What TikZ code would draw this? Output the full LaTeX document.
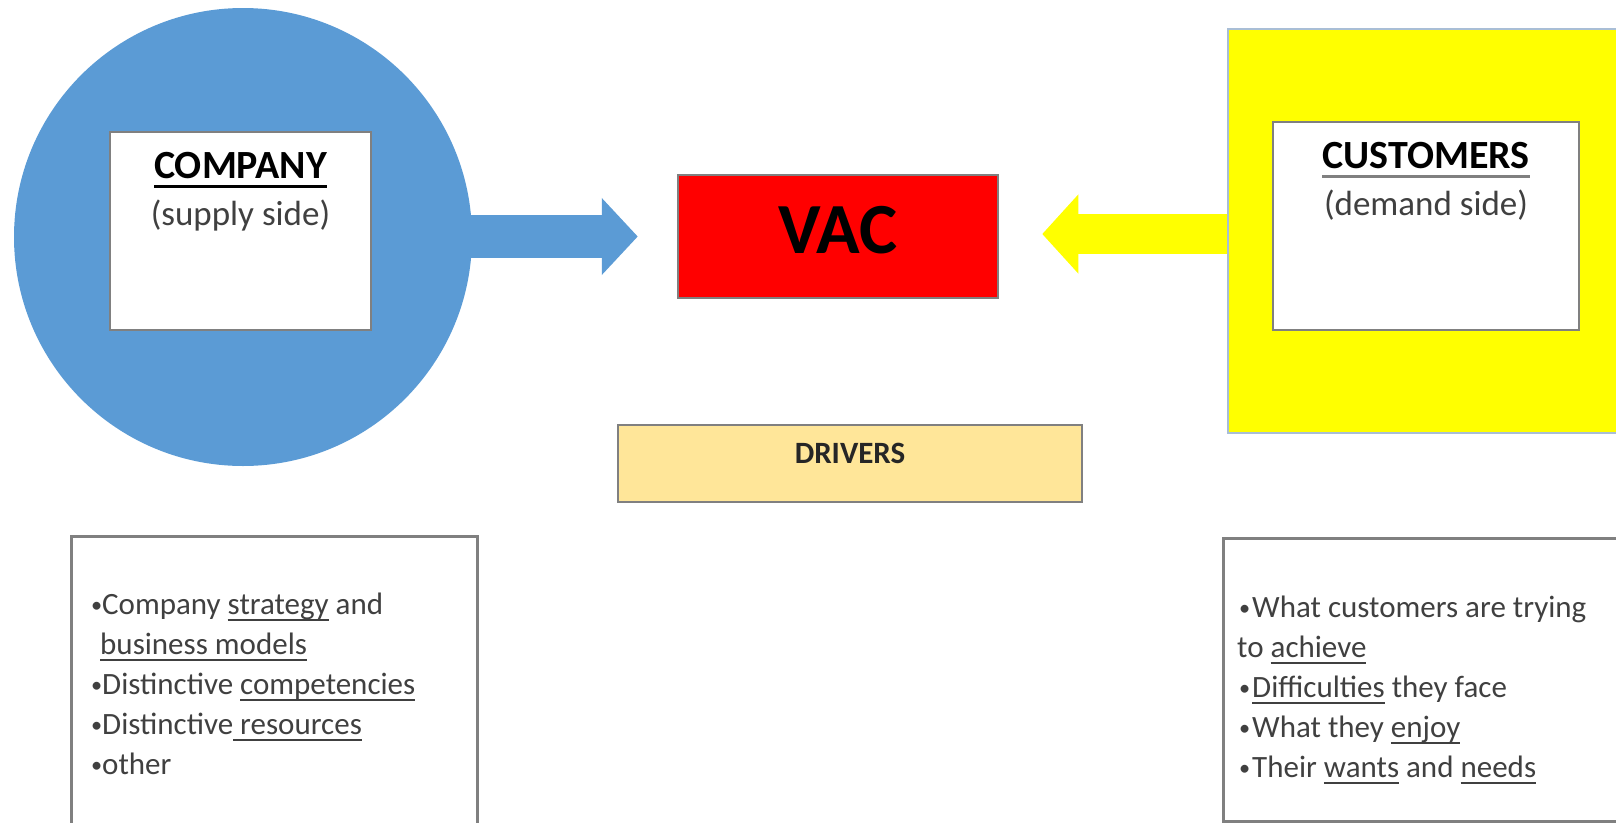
\documentclass[tikz,border=0pt]{standalone}
\usepackage{fontspec}
\setmainfont{Carlito}
\usetikzlibrary{arrows.meta,backgrounds,calc}

\definecolor{cblue}{HTML}{5B9BD5}
\definecolor{cyellow}{HTML}{FFFF00}
\definecolor{cred}{HTML}{FF0000}
\definecolor{csand}{HTML}{FFE699}
\definecolor{edgegray}{HTML}{808080}
\definecolor{edgeblue}{HTML}{A9BED6}
\definecolor{txtgray}{HTML}{404040}
\definecolor{txtdark}{HTML}{262626}

% underline at a fixed distance below the baseline, optional rule colour
\newsavebox\ulbox
\newcommand{\myunder}[2][.]{\sbox\ulbox{#2}\rlap{\textcolor{#1}{\rule[-0.23em]{\wd\ulbox}{0.07em}}}\usebox\ulbox}
% small list bullet in a box of given width
\newcommand{\bul}[1][11pt]{\makebox[#1][l]{\raisebox{0.07em}{\scalebox{0.72}{\textbullet}}}}

\begin{document}
\begin{tikzpicture}[x=1pt,y=-1pt,
  box/.style={rectangle, draw=edgegray, line width=2.5pt, fill=white, inner sep=0pt},
  titletext/.style={font=\fontsize{40}{48}\selectfont\bfseries, text=black, inner sep=0pt, anchor=base},
  subtext/.style={font=\fontsize{35}{42}\selectfont, text=txtgray, inner sep=0pt, anchor=base},
  listtext/.style={font=\fontsize{31}{40}\selectfont, text=txtgray, align=left, inner sep=0pt, anchor=north west},
  bluearrow/.style={draw=cblue, line width=43pt, -{Triangle[length=36pt,width=75pt]}},
  yellowarrow/.style={draw=cyellow, line width=40pt, -{Triangle[length=36pt,width=77pt]}}
]
\useasboundingbox (0,0) rectangle (1616,822);
\clip (0,0) rectangle (1616,822);

% supply side
\node[circle, fill=cblue, minimum size=458pt, inner sep=0pt] (company) at (243,237) {};
\node[box, minimum width=261pt, minimum height=198pt] (compbox) at (240.5,231) {};
\node[titletext] (comptitle) at ($(compbox.north)+(0,48)$) {\myunder{COMPANY}};
\node[subtext] (compsub) at ($(compbox.north)+(0,95)$) {(supply side)};

% value creation in the middle
\node[box, fill=cred, minimum width=320pt, minimum height=123pt] (vac) at (838,236.5) {};
\node[font=\fontsize{72}{80}\selectfont\bfseries, text=black, inner sep=0pt, anchor=base] (vactext) at ($(vac.center)+(0,17)$) {VAC};

\node[box, fill=csand, minimum width=464pt, minimum height=77pt] (drivers) at (850,463.5) {};
\node[font=\fontsize{31}{36}\selectfont\bfseries, text=txtdark, inner sep=0pt, anchor=base] (drivtext) at (drivers.center) {DRIVERS};

% demand side
\node[rectangle, fill=cyellow, draw=edgeblue, line width=2.5pt, inner sep=0pt,
      minimum width=432pt, minimum height=404pt] (custsq) at (1444,231) {};
\node[box, minimum width=306pt, minimum height=208pt] (custbox) at (1426,226) {};
\node[titletext] (custtitle) at ($(custbox.north)+(0,48)$) {\myunder[edgegray]{CUSTOMERS}};
\node[subtext] (custsub) at ($(custbox.north)+(0,95)$) {(demand side)};

% arrows into the centre box
\coordinate (btip) at ($(vac.west)+(-39,0)$);
\coordinate (ytip) at ($(vac.east)+(43,-2.5)$);
\begin{scope}[on background layer]
  \draw[bluearrow] (btip -| company.center) -- (btip);
  \draw[yellowarrow] (ytip -| custsq.center) -- (ytip);
\end{scope}

% lists
\node[box, anchor=north west, minimum width=406pt, minimum height=305pt] (leftlist) at (70,535) {};
\node[listtext] (lefttext) at (91,586) {%
  \strut\bul Company \myunder{strategy} and\\
  \hspace*{9pt}\myunder{business models}\\
  \bul Distinctive \myunder{competencies}\\
  \bul Distinctive\myunder{ resources}\\
  \bul other};

\node[box, anchor=north west, minimum width=438pt, minimum height=283pt] (rightlist) at (1222,537) {};
\node[listtext] (righttext) at (1239,589) {%
  \strut\bul[13pt]What customers are trying\\
  \hspace*{-2pt}to \myunder{achieve}\\
  \bul[13pt]\myunder{Difficulties} they face\\
  \bul[13pt]What they \myunder{enjoy}\\
  \bul[13pt]Their \myunder{wants} and \myunder{needs}};
\end{tikzpicture}
\end{document}
